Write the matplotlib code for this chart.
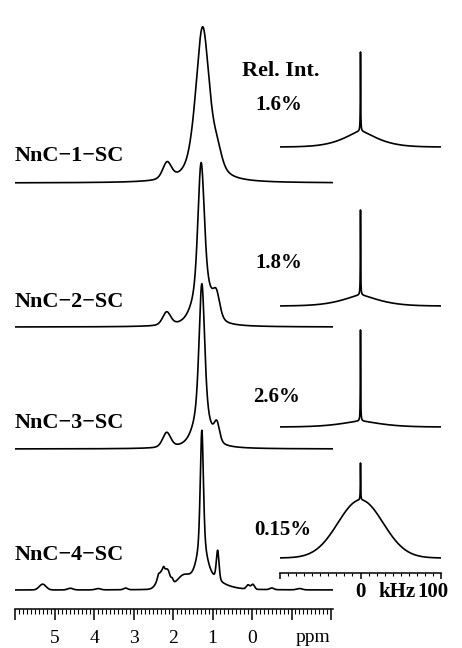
import numpy as np
import matplotlib
matplotlib.use("Agg")
import matplotlib.pyplot as plt
from matplotlib.ticker import MultipleLocator, FixedLocator

plt.rcParams['font.family'] = ['Liberation Serif', 'DejaVu Serif']

# ---- data ----
samples = ['NnC\u22121\u2212SC', 'NnC\u22122\u2212SC', 'NnC\u22123\u2212SC', 'NnC\u22124\u2212SC']
rel_int = ['1.6%', '1.8%', '2.6%', '0.15%']

# 1H MAS peaks: position (ppm), height, half width (ppm), lorentzian fraction
peaks_1 = [(1.25, 0.94, 0.21, 0.6), (0.87, 0.10, 0.14, 0.5), (2.15, 0.10, 0.13, 0.3)]
peaks_2 = [(1.29, 0.70, 0.09, 0.3), (1.25, 0.30, 0.25, 0.5), (0.90, 0.13, 0.10, 0.3),
           (2.16, 0.08, 0.12, 0.3)]
peaks_3 = [(1.27, 0.75, 0.08, 0.4), (1.27, 0.25, 0.22, 0.6), (0.89, 0.11, 0.08, 0.3),
           (2.16, 0.09, 0.12, 0.3)]
peaks_4 = [(1.27, 0.68, 0.045, 0.3), (1.27, 0.24, 0.15, 0.7), (1.15, 0.05, 0.45, 0.3),
           (0.87, 0.18, 0.04, 0.3), (1.75, 0.06, 0.18, 0.0),
           (2.24, 0.12, 0.15, 0.0), (2.12, 0.03, 0.05, 0.0), (2.24, 0.015, 0.02, 0.0),
           (2.02, 0.02, 0.03, 0.0), (2.37, 0.02, 0.03, 0.0),
           (5.30, 0.035, 0.10, 0.0), (0.10, 0.025, 0.05, 0.0), (-0.02, 0.03, 0.05, 0.0),
           (4.60, 0.010, 0.08, 0.0), (3.90, 0.008, 0.08, 0.0), (3.20, 0.010, 0.06, 0.0),
           (-0.50, 0.010, 0.06, 0.0), (-1.20, 0.008, 0.08, 0.0)]
all_peaks = [peaks_1, peaks_2, peaks_3, peaks_4]

# wide-line (kHz) components: broad height, broad half width, shape exponent, spike height
broad_height = [0.16, 0.11, 0.06, 0.58]
broad_hw = [23, 25, 27, 33]
broad_shape = [1.4, 1.4, 1.4, 2.0]
spike_height = [0.79, 0.85, 0.91, 0.37]

# ---- layout (pixel geometry of the original) ----
W, H = 462, 648
left_offsets = [2.467, 1.594, 0.855, 0.0]
right_offsets = [4.11, 2.52, 1.31, 0.0]


def pv(x, x0, h, hw, eta):
    u = ((x - x0) / hw) ** 2
    return h * (eta / (1 + u) + (1 - eta) * np.exp(-np.log(2) * u))


fig = plt.figure(figsize=(W / 100, H / 100), dpi=100)

axL = fig.add_axes([15 / W, (H - 609) / H, 318 / W, 609 / H])
axR = fig.add_axes([280 / W, (H - 573) / H, 161 / W, 573 / H])
for ax in (axL, axR):
    ax.patch.set_visible(False)
    for s in ('left', 'right', 'top'):
        ax.spines[s].set_visible(False)
    ax.spines['bottom'].set_linewidth(1.1)
    ax.set_yticks([])

ppm = np.linspace(6.0, -2.05, 4000)
for peaks, off in zip(all_peaks, left_offsets):
    y = np.zeros_like(ppm)
    for p in peaks:
        y += pv(ppm, *p)
    axL.plot(ppm, y + off, color='black', lw=1.2)
axL.set_xlim(6.0, -2.05)
axL.set_ylim(-0.115, 3.576)
axL.xaxis.set_major_locator(FixedLocator(range(-2, 7)))
axL.xaxis.set_minor_locator(MultipleLocator(0.1))
axL.set_xticklabels(['' if (v < 0 or v > 5) else str(v) for v in range(-2, 7)],
                    fontsize=14)
axL.tick_params(axis='x', which='major', length=8, width=1.1, pad=7)
axL.tick_params(axis='x', which='minor', length=3.5, width=0.8)
fig.text(313 / W, 1 - 642 / H, 'ppm', fontsize=14, ha='center', va='baseline')

khz = np.linspace(-100, 100, 8001)
for i, off in enumerate(right_offsets):
    broad = broad_height[i] * np.exp(-np.log(2) * (np.abs(khz) / broad_hw[i]) ** broad_shape[i])
    spike = spike_height[i] / (1 + (khz / 0.25) ** 2)
    axR.plot(khz, broad + spike + off, color='black', lw=1.2)
axR.set_xlim(-100, 100)
axR.set_ylim(-0.15, 5.58)
axR.xaxis.set_major_locator(FixedLocator([-100, 0, 100]))
axR.xaxis.set_minor_locator(MultipleLocator(10))
axR.set_xticklabels(['', '', ''])
axR.tick_params(axis='x', which='major', length=4.5, width=1.1)
axR.tick_params(axis='x', which='minor', length=2, width=0.8)

# axis words of the wide-line panel
for txt, px in [('0', 360), ('kHz', 397), ('100', 433)]:
    fig.text(px / W, 1 - 597 / H, txt, fontsize=15, fontweight='bold',
             ha='center', va='baseline')

# sample names and relative intensities
name_base = [161, 307, 428, 560]
pct_base = [110, 268, 402, 535]
pct_x = [255, 255, 253, 254]
for name, yb in zip(samples, name_base):
    fig.text(15 / W, 1 - yb / H, name, fontsize=16, fontweight='bold', va='baseline')
for pct, yb, xp in zip(rel_int, pct_base, pct_x):
    fig.text(xp / W, 1 - yb / H, pct, fontsize=15, fontweight='bold', va='baseline')
fig.text(242 / W, 1 - 76 / H, 'Rel. Int.', fontsize=16, fontweight='bold', va='baseline')

fig.savefig('out.png', dpi=100)
